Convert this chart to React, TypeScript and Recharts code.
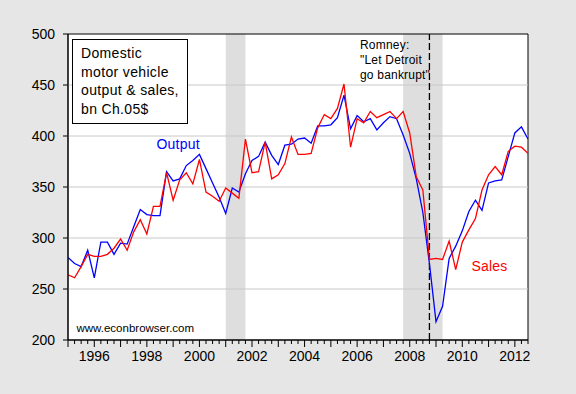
import React from 'react';
import { LineChart, Line, XAxis, YAxis, ReferenceArea, ReferenceLine } from 'recharts';

// quarterly, 1995Q1 .. 2012Q3, bn chained 2005 dollars
const START_YEAR = 1995;

const OUTPUT = [
  281, 275, 272, 288, 261, 296, 296, 284, 295, 294, 311, 328,
  323, 322, 322, 365, 356, 358, 371, 376, 382, 368, 354, 340,
  324, 349, 345, 363, 376, 380, 394, 381, 372, 391, 392, 397,
  398, 393, 410, 410, 411, 418, 440, 407, 420, 414, 417, 406,
  413, 419, 417, 401, 383, 358, 325, 275, 218, 233, 280, 292,
  307, 326, 337, 327, 354, 356, 357, 380, 403, 409, 397,
];

const SALES = [
  264, 261, 272, 284, 282, 282, 284, 290, 299, 288, 306, 318,
  304, 331, 331, 364, 337, 357, 364, 353, 377, 345, 341, 336,
  349, 344, 339, 397, 364, 365, 394, 358, 362, 373, 399, 382,
  382, 383, 408, 421, 417, 427, 451, 389, 417, 413, 424, 418,
  421, 424, 417, 424, 403, 360, 347, 279, 280, 279, 297, 269,
  296, 308, 319, 347, 362, 370, 362, 385, 390, 389, 383,
];

// NBER recessions, in quarter positions
const RECESSIONS = [
  { from: 2001.0, to: 2001.75 },
  { from: 2007.75, to: 2009.25 },
];

const ROMNEY_OPED = 2008.75;

const Y_TICKS = [200, 250, 300, 350, 400, 450, 500];
const GRID_LINES = [250, 300, 350, 400, 450];
const YEAR_LABELS = [1996, 1998, 2000, 2002, 2004, 2006, 2008, 2010, 2012];

const X_MIN = 1995;
const X_MAX = 2012.5;

const data = OUTPUT.map((v, i) => ({
  t: START_YEAR + i / 4,
  output: v,
  sales: SALES[i],
}));

const quarterTicks: number[] = [];
for (let t = X_MIN; t <= X_MAX + 1e-9; t += 0.25) quarterTicks.push(t);

const FONT = '"Liberation Sans", Arial, Helvetica, sans-serif';

function QuarterTick(props: any) {
  const { x, y, payload } = props;
  const t = payload.value as number;
  const isYear = Math.abs(t - Math.round(t)) < 1e-6;
  const year = Math.round(t);
  return (
    <g>
      <line x1={x} x2={x} y1={y} y2={y + (isYear ? 7 : 4)} stroke="#000" strokeWidth={1} />
      {isYear && YEAR_LABELS.includes(year) && (
        <text x={x} y={y + 21} textAnchor="middle" fontSize={14} fontFamily={FONT} fill="#000">
          {year}
        </text>
      )}
    </g>
  );
}

const abs = (left: number, top: number, extra: React.CSSProperties = {}): React.CSSProperties => ({
  position: 'absolute',
  left,
  top,
  whiteSpace: 'nowrap',
  ...extra,
});

export default function App() {
  return (
    <div
      style={{
        position: 'absolute',
        left: 0,
        top: 0,
        width: 576,
        height: 394,
        background: '#e6e6e6',
        fontFamily: FONT,
        color: '#000',
      }}
    >
      <LineChart width={576} height={394} data={data} margin={{ top: 34, right: 48, bottom: 24, left: 0 }}>
        <ReferenceArea x1={X_MIN} x2={X_MAX} y1={200} y2={500} fill="#ffffff" fillOpacity={1} stroke="none" />
        {RECESSIONS.map((r) => (
          <ReferenceArea key={r.from} x1={r.from} x2={r.to} y1={200} y2={500} fill="#dedede" fillOpacity={1} stroke="none" />
        ))}
        {GRID_LINES.map((g) => (
          <ReferenceLine key={g} y={g} stroke="#c8c8c8" strokeWidth={1} />
        ))}
        <ReferenceLine x={ROMNEY_OPED} stroke="#000" strokeWidth={1.3} strokeDasharray="7 3" />
        <XAxis
          dataKey="t"
          type="number"
          domain={[X_MIN, X_MAX]}
          ticks={quarterTicks}
          interval={0}
          height={30}
          tickSize={0}
          tickMargin={0}
          tickLine={false}
          tick={<QuarterTick />}
          axisLine={{ stroke: '#000' }}
          allowDataOverflow
        />
        <YAxis
          type="number"
          domain={[200, 500]}
          ticks={Y_TICKS}
          width={68}
          tickSize={5}
          tickMargin={8}
          tickLine={{ stroke: '#000' }}
          axisLine={{ stroke: '#000' }}
          tick={{ fontSize: 14, fill: '#000', fontFamily: FONT }}
          allowDataOverflow
        />
        <Line type="linear" dataKey="output" stroke="#0000ff" strokeWidth={1.3} dot={false} isAnimationActive={false} />
        <Line type="linear" dataKey="sales" stroke="#ff0000" strokeWidth={1.3} dot={false} isAnimationActive={false} />
        <ReferenceArea x1={X_MIN} x2={X_MAX} y1={200} y2={500} fill="none" stroke="#000" strokeWidth={1} />
      </LineChart>

      <div
        style={abs(72, 39, {
          width: 116,
          height: 85,
          boxSizing: 'border-box',
          border: '1px solid #000',
          background: '#fff',
          padding: '4px 0 0 8px',
          fontSize: 14,
          lineHeight: '18.7px',
          letterSpacing: 0.35,
        })}
      >
        <div>Domestic</div>
        <div>motor vehicle</div>
        <div>output &amp; sales,</div>
        <div>bn Ch.05$</div>
      </div>

      <div style={abs(360, 37.5, { fontSize: 12, lineHeight: '15px', letterSpacing: 0.2 })}>
        <div>Romney:</div>
        <div>"Let Detroit</div>
        <div>go bankrupt"</div>
      </div>

      <div style={abs(156.5, 136.3, { fontSize: 14, lineHeight: '16px', color: '#0000ff', letterSpacing: 0.2 })}>Output</div>
      <div style={abs(471.5, 258, { fontSize: 14, lineHeight: '16px', color: '#ff0000', letterSpacing: 0.2 })}>Sales</div>
      <div style={abs(76.5, 321.3, { fontSize: 11.5, lineHeight: '14px' })}>www.econbrowser.com</div>
    </div>
  );
}
